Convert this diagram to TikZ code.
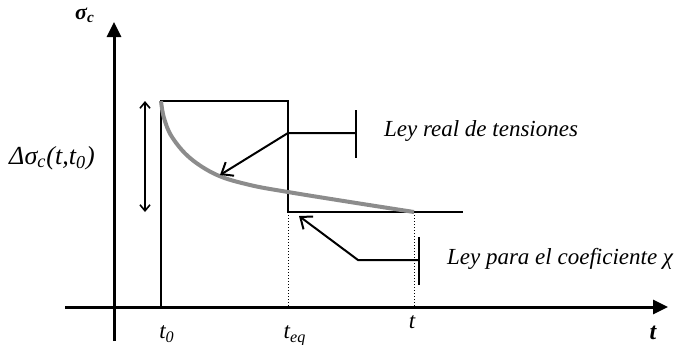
\documentclass[tikz,border=0pt]{standalone}
\usepackage{fontspec}
\setmainfont{Liberation Serif}
\usetikzlibrary{arrows.meta}
\begin{document}
\begin{tikzpicture}[x=0.5pt,y=-0.5pt,font=\fontsize{11.5}{13}\selectfont\itshape,
  axis/.style={line width=1.5pt,-{Triangle[length=7.5pt,width=7pt]}},
  law/.style={line width=1pt},
  real/.style={line width=2pt,black!45},
  guide/.style={densely dotted,line width=0.5pt},
  pointer/.style={line width=1pt,-{Straight Barb[length=5pt,width=8pt]}},
  span/.style={line width=0.8pt,{Straight Barb[length=3pt,width=5pt]}-{Straight Barb[length=3pt,width=5pt]}}]
\useasboundingbox (0,0) rectangle (683,344);
% axes
\coordinate (ybot) at (114,341);
\coordinate (ytop) at (114,22);
\coordinate (xleft) at (65,307);
\coordinate (xright) at (668,307);
\draw[axis] (ybot) -- (ytop);
\draw[axis] (xleft) -- (xright);
\node[font=\fontsize{11}{12}\selectfont\bfseries\itshape] (sigma) at (85,15) {σ\textsubscript{c}};
\node[font=\fontsize{12}{12}\selectfont\bfseries\itshape] (tname) at (653,333) {t};

% times on the axis
\coordinate (t0) at (161,307);
\coordinate (teq) at (288,307);
\coordinate (tt) at (414,307);
\node (t0lab) at (167,334) {t\textsubscript{0}};
\node (teqlab) at (295,336) {t\textsubscript{eq}};
\node (ttlab) at (412,322) {t};

% step law for the coefficient
\coordinate (top0) at (161,101);
\coordinate (topeq) at (288,101);
\coordinate (loweq) at (288,212);
\coordinate (lowt) at (414,212);
\coordinate (lowend) at (463,212);
\draw[law] (t0) -- (top0) -- (topeq) -- (loweq) -- (lowend);
\draw[guide] (loweq) -- (teq);
\draw[guide] (lowt) -- (tt);

% real stress law
\draw[real] plot[smooth,tension=0.6] coordinates {(161,101) (164,118) (172,137) (190,158) (217,175) (250,185) (288,192) (350,202) (414,212)};

% stress increment
\coordinate (spantop) at (145,101);
\coordinate (spanbot) at (145,212);
\draw[span] (spantop) -- (spanbot);
\node[font=\fontsize{13}{14}\selectfont\itshape] (dsigma) at (52,158) {Δσ\textsubscript{c}(t,t\textsubscript{0})};

% callouts
\coordinate (tipreal) at (220,175);
\coordinate (elbowreal) at (288,133);
\coordinate (barreal) at (356,133);
\draw[pointer] (barreal) -- (elbowreal) -- (tipreal);
\draw[law] (356,110) -- (356,158);
\node[anchor=west] (lreal) at (377,131) {Ley real de tensiones};

\coordinate (tipchi) at (299,216);
\coordinate (elbowchi) at (358,260);
\coordinate (barchi) at (419,260);
\draw[pointer] (barchi) -- (elbowchi) -- (tipchi);
\draw[law] (419,237) -- (419,285);
\node[anchor=west] (lchi) at (440,259) {Ley para el coeficiente χ};
\end{tikzpicture}
\end{document}
